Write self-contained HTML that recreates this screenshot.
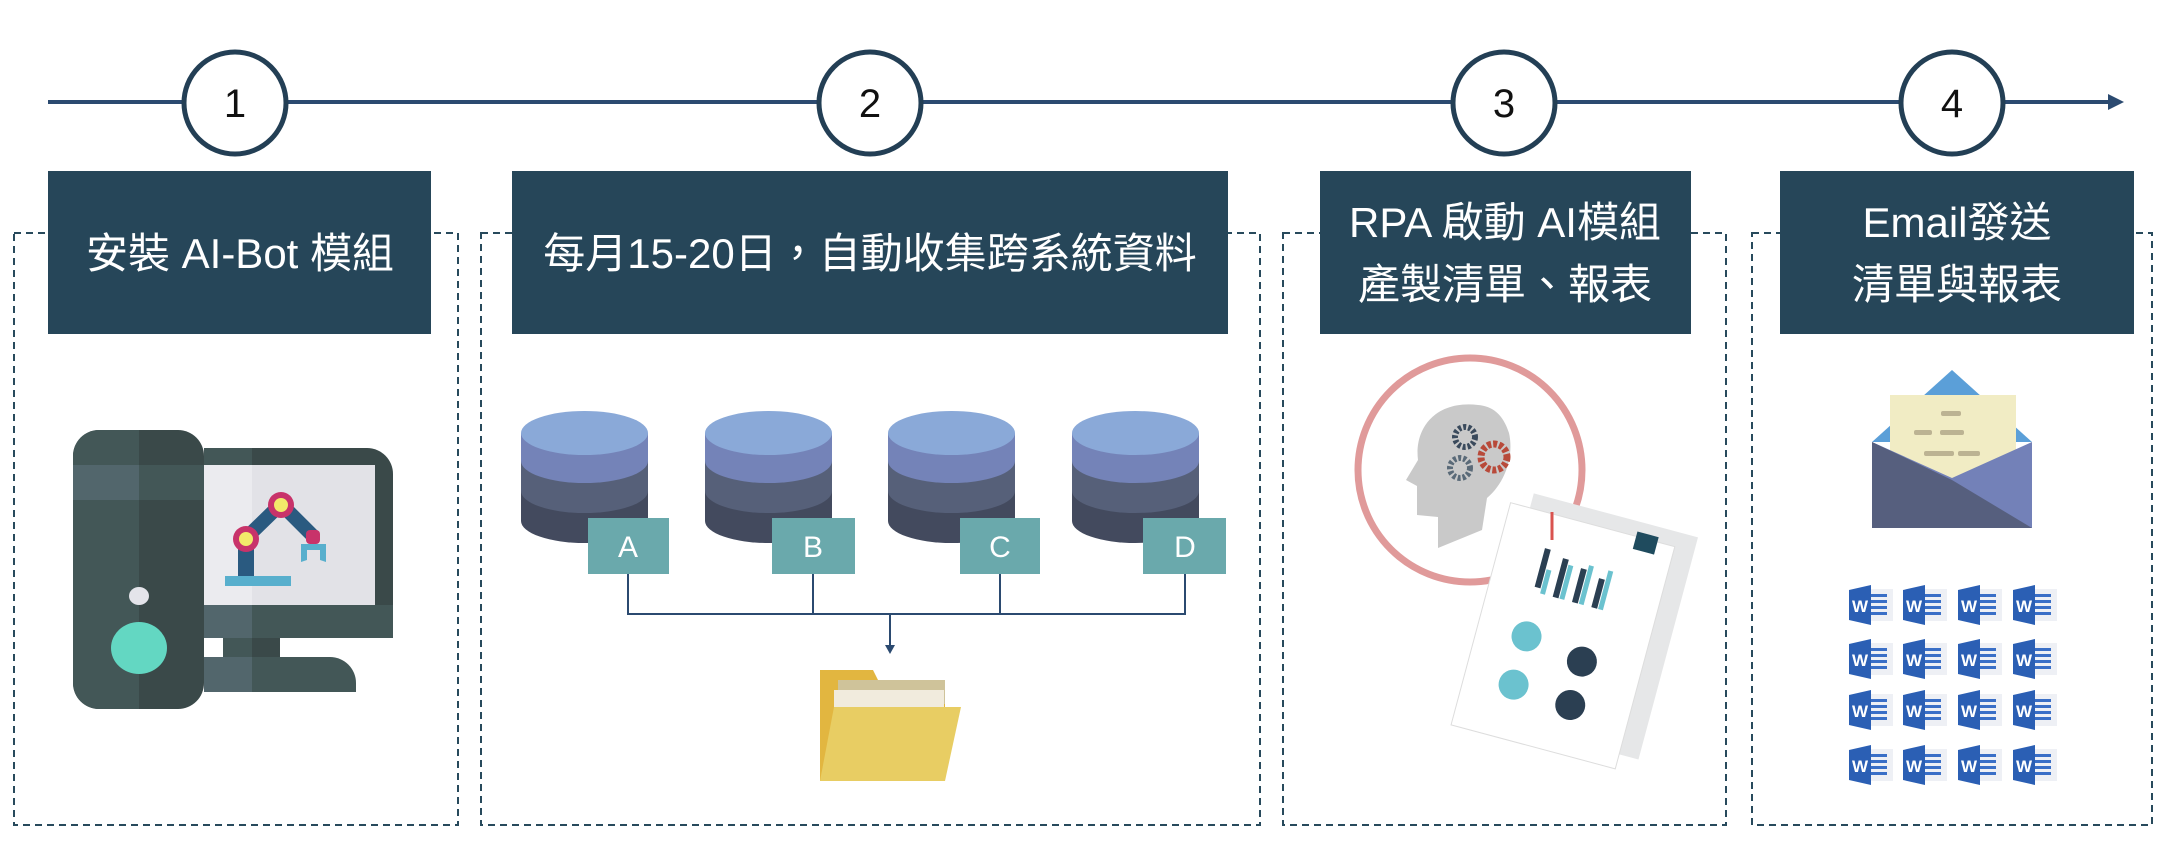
<!DOCTYPE html>
<html><head><meta charset="utf-8"><style>
html,body{margin:0;padding:0;background:#fff;}
svg{display:block;}
text{font-family:"Liberation Sans","Noto Sans CJK TC",sans-serif;}
</style></head><body>
<svg width="2168" height="848" viewBox="0 0 2168 848" xmlns="http://www.w3.org/2000/svg">
<defs>
<g id="w">
<rect x="14" y="4" width="30" height="32" fill="#eef0f5"/>
<path d="M0 5 L22 0 L22 40 L0 35 Z" fill="#2b5fb4"/>
<rect x="22" y="9" width="16" height="3" fill="#3a6fc7"/><rect x="22" y="15" width="16" height="3" fill="#3a6fc7"/><rect x="22" y="21" width="16" height="3" fill="#3a6fc7"/><rect x="22" y="27" width="16" height="3" fill="#3a6fc7"/>
<text x="3" y="27" font-size="17" font-weight="bold" fill="#fff">W</text>
</g>
<g id="db">
<path d="M0 22 V110 A63.5 22 0 0 0 127 110 V22 Z" fill="#434a5e"/>
<path d="M0 22 V80 A63.5 22 0 0 0 127 80 V22 Z" fill="#566079"/>
<path d="M0 22 V50 A63.5 22 0 0 0 127 50 V22 Z" fill="#7483b8"/>
<ellipse cx="63.5" cy="22" rx="63.5" ry="22" fill="#8aa9d8"/>
</g>
</defs>
<line x1="48" y1="102" x2="2110" y2="102" stroke="#2b4a70" stroke-width="4"/>
<polygon points="2108,94 2124,102 2108,110" fill="#2b4a70"/>
<g fill="#fff" stroke="#233f55" stroke-width="5">
<circle cx="235" cy="103" r="51"/><circle cx="870" cy="103" r="51"/><circle cx="1504" cy="103" r="51"/><circle cx="1952" cy="103" r="51"/>
</g>
<g font-size="40" text-anchor="middle" fill="#111">
<text x="235" y="117">1</text><text x="870" y="117">2</text><text x="1504" y="117">3</text><text x="1952" y="117">4</text>
</g>
<g fill="none" stroke="#284a5c" stroke-width="2" stroke-dasharray="7,5">
<rect x="14" y="233" width="444" height="592"/>
<rect x="481" y="233" width="779" height="592"/>
<rect x="1283" y="233" width="443" height="592"/>
<rect x="1752" y="233" width="400" height="592"/>
</g>
<g fill="#264659">
<rect x="48" y="171" width="383" height="163"/>
<rect x="512" y="171" width="716" height="163"/>
<rect x="1320" y="171" width="371" height="163"/>
<rect x="1780" y="171" width="354" height="163"/>
</g>
<g fill="#fff" font-size="42" text-anchor="middle">
<text x="240" y="268">安裝 AI-Bot 模組</text>
<text x="870" y="268">每月15-20日，自動收集跨系統資料</text>
<text x="1505" y="237">RPA 啟動 AI模組</text>
<text x="1505" y="299">產製清單、報表</text>
<text x="1957" y="237">Email發送</text>
<text x="1957" y="299">清單與報表</text>
</g>
<rect x="204" y="448" width="189" height="190" rx="26" fill="#3a4949"/>
<rect x="204" y="448" width="48" height="190" fill="#435757"/>
<rect x="204" y="465" width="171" height="140" fill="#e2e2e7"/>
<rect x="204" y="465" width="48" height="140" fill="#ebebef"/>
<rect x="204" y="605" width="189" height="33" fill="#435757"/>
<rect x="204" y="605" width="48" height="33" fill="#52666c"/>
<rect x="223" y="638" width="57" height="19" fill="#3a4949"/>
<rect x="223" y="638" width="29" height="19" fill="#435757"/>
<path d="M204 657 H330 A26 26 0 0 1 356 683 V692 H204 Z" fill="#435757"/>
<rect x="204" y="657" width="48" height="35" fill="#52666c"/>
<rect x="73" y="430" width="131" height="279" rx="26" fill="#3a4949"/>
<path d="M99 430 H139 V709 H99 A26 26 0 0 1 73 683 V456 A26 26 0 0 1 99 430Z" fill="#435757"/>
<rect x="73" y="465" width="131" height="35" fill="#435757"/>
<rect x="73" y="465" width="66" height="35" fill="#52666c"/>
<ellipse cx="139" cy="596" rx="10" ry="9" fill="#e4e4ea"/>
<ellipse cx="139" cy="648" rx="28" ry="26" fill="#63d7c2"/>
<rect x="225" y="576" width="66" height="10" fill="#58afcd"/>
<rect x="238" y="540" width="16" height="36" fill="#2a5a80"/>
<line x1="246" y1="538" x2="281" y2="504" stroke="#2a5a80" stroke-width="14"/>
<line x1="281" y1="504" x2="313" y2="536" stroke="#2a5a80" stroke-width="14"/>
<circle cx="246" cy="539" r="13" fill="#c8336a"/><circle cx="246" cy="539" r="7" fill="#f2ea6a"/>
<circle cx="281" cy="505" r="13" fill="#c8336a"/><circle cx="281" cy="505" r="7" fill="#f2ea6a"/>
<rect x="306" y="530" width="14" height="14" rx="4" fill="#c8336a"/>
<path d="M301 544 H326 V562 L320 560 V550 H307 V560 L301 562 Z" fill="#58afcd"/>
<use href="#db" x="521" y="411"/><use href="#db" x="705" y="411"/><use href="#db" x="888" y="411"/><use href="#db" x="1072" y="411"/>
<g fill="#6aa9ac"><rect x="588" y="518" width="81" height="56"/><rect x="772" y="518" width="83" height="56"/><rect x="960" y="518" width="80" height="56"/><rect x="1143" y="518" width="83" height="56"/></g>
<g fill="#fff" font-size="30" text-anchor="middle"><text x="628" y="557">A</text><text x="813" y="557">B</text><text x="1000" y="557">C</text><text x="1185" y="557">D</text></g>
<g stroke="#2b4a70" stroke-width="2" fill="none">
<path d="M628 574 V614 H1185 V574 M813 574 V614 M1000 574 V614 M890 614 V646"/>
</g>
<polygon points="885,645 895,645 890,654" fill="#2b4a70"/>
<path d="M820 670 H873 L880 684 H945 V781 H820 Z" fill="#e2b640"/>
<rect x="838" y="680" width="107" height="24" fill="#cfc39a"/>
<rect x="834" y="690" width="110" height="40" fill="#f1ebdd"/>
<path d="M834 707 H961 L945 781 H820 Z" fill="#e8cd63"/>
<circle cx="1470" cy="470" r="112" fill="#fff" stroke="#e09a9a" stroke-width="7"/>
<path d="M1478 405 C1436 400 1414 428 1418 460 L1406 480 L1417 486 L1417 515 L1438 517 L1438 548 L1482 530 L1487 498 C1506 482 1514 455 1509 433 C1503 414 1492 406 1478 405Z" fill="#c9c9c9"/>
<circle cx="1465" cy="437" r="10" fill="none" stroke="#3a4a5c" stroke-width="6" stroke-dasharray="3,2"/>
<circle cx="1460" cy="468" r="10" fill="none" stroke="#5a6a78" stroke-width="6" stroke-dasharray="3,2"/>
<circle cx="1494" cy="457" r="13" fill="none" stroke="#b84a3a" stroke-width="7" stroke-dasharray="4,2"/>
<g transform="rotate(15 1580 630)">
<rect x="1500" y="510" width="170" height="230" fill="#e6e7e8"/>
<rect x="1480" y="525" width="170" height="230" fill="#fff" stroke="#ddd"/>
<g fill="#2b3f52"><rect x="1525" y="560" width="6" height="40"/><rect x="1545" y="565" width="6" height="40"/><rect x="1565" y="570" width="6" height="35"/><rect x="1585" y="575" width="6" height="30"/></g>
<g fill="#6bc2cf"><rect x="1532" y="580" width="5" height="25"/><rect x="1552" y="570" width="5" height="35"/><rect x="1572" y="565" width="5" height="40"/><rect x="1592" y="565" width="5" height="40"/></g>
<circle cx="1530" cy="650" r="15" fill="#6bc2cf"/><circle cx="1590" cy="660" r="15" fill="#2b3f52"/>
<circle cx="1530" cy="700" r="15" fill="#6bc2cf"/><circle cx="1590" cy="705" r="15" fill="#2b3f52"/>
<rect x="1610" y="520" width="22" height="18" fill="#1f4b5e"/>
</g>
<path d="M1552 512 v28" stroke="#d9534f" stroke-width="3" fill="none"/>
<polygon points="1872,442 1952,370 2032,442" fill="#5b9fd8"/>
<rect x="1890" y="395" width="126" height="95" fill="#f1ecc4"/>
<g fill="#bcb393"><rect x="1941" y="411" width="20" height="5" rx="2"/><rect x="1914" y="430" width="18" height="5" rx="2"/><rect x="1940" y="430" width="24" height="5" rx="2"/><rect x="1924" y="451" width="30" height="5" rx="2"/><rect x="1958" y="451" width="22" height="5" rx="2"/></g>
<polygon points="1872,508 1872,442 1952,478 2032,442 2032,528" fill="#7381b8"/>
<polygon points="1872,442 1952,480 2032,528 1872,528" fill="#565f7e"/>
<use href="#w" x="1849" y="585"/><use href="#w" x="1903" y="585"/><use href="#w" x="1958" y="585"/><use href="#w" x="2013" y="585"/>
<use href="#w" x="1849" y="639"/><use href="#w" x="1903" y="639"/><use href="#w" x="1958" y="639"/><use href="#w" x="2013" y="639"/>
<use href="#w" x="1849" y="690"/><use href="#w" x="1903" y="690"/><use href="#w" x="1958" y="690"/><use href="#w" x="2013" y="690"/>
<use href="#w" x="1849" y="745"/><use href="#w" x="1903" y="745"/><use href="#w" x="1958" y="745"/><use href="#w" x="2013" y="745"/>
</svg>
</body></html>
